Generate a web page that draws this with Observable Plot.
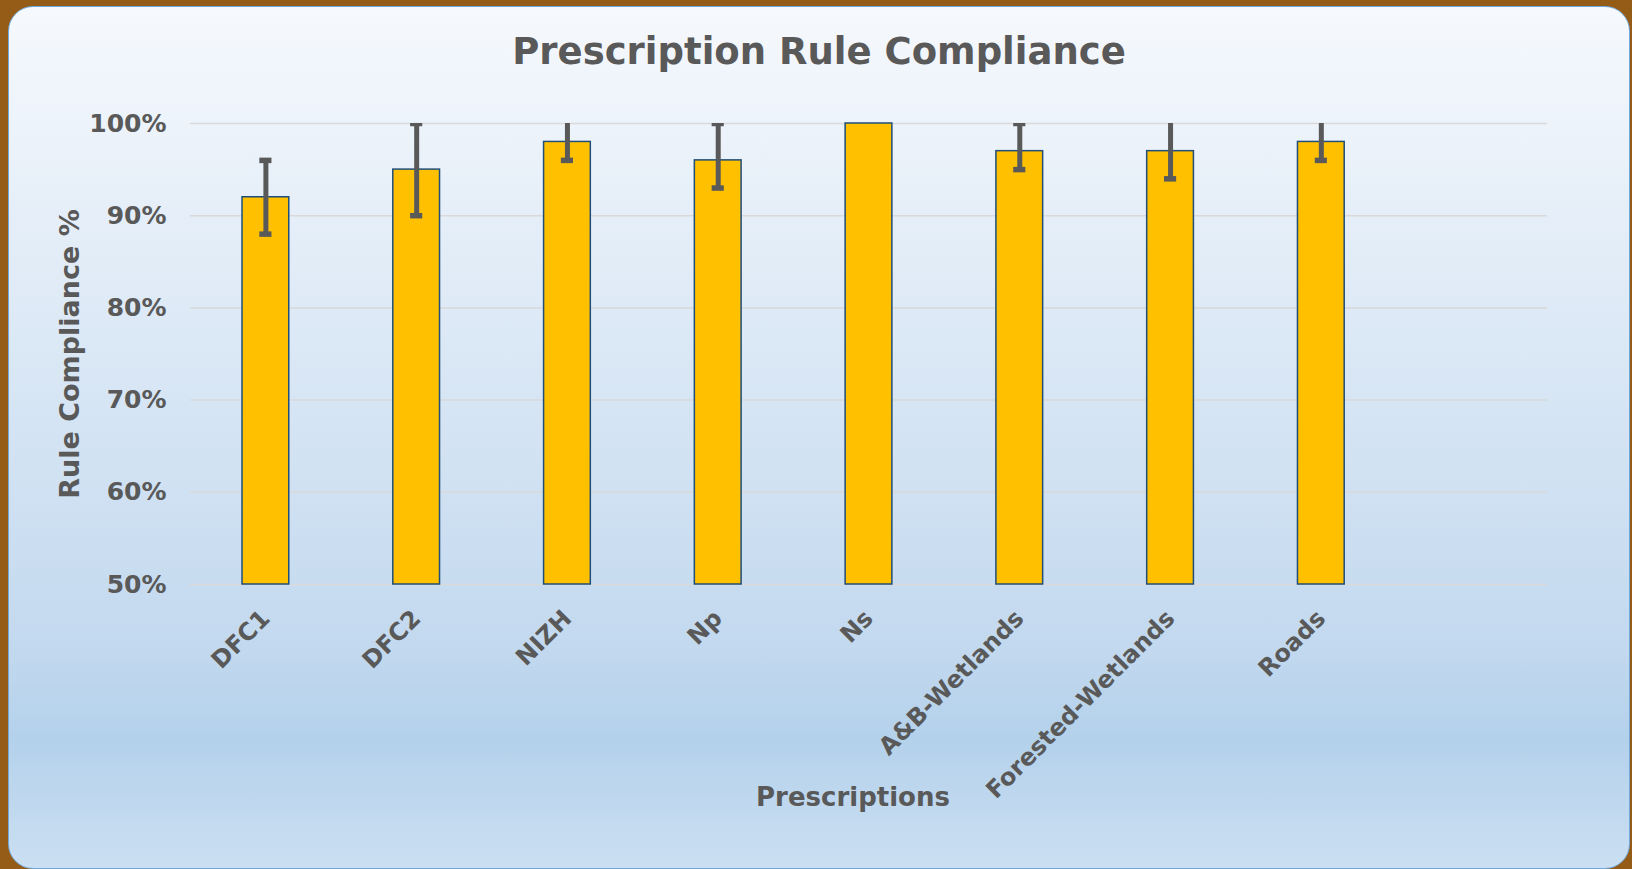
<!DOCTYPE html>
<html>
<head>
<meta charset="utf-8">
<script src="https://cdn.jsdelivr.net/npm/d3@7"></script>
<script src="https://cdn.jsdelivr.net/npm/@observablehq/plot@0.6"></script>
<style>
  html, body { margin: 0; padding: 0; }
  body { width: 1632px; height: 869px; background: #955c17; position: relative; overflow: hidden;
         font-family: "DejaVu Sans", Verdana, sans-serif; font-weight: bold; color: #595959; }
  #card { position: absolute; left: 8px; top: 6px; width: 1622px; height: 863px; box-sizing: border-box;
          border: 1.5px solid #6fa8dc; border-radius: 25px;
          background: linear-gradient(to bottom, #f6f9fd 0%, #c3d9ef 74%, #b4d1eb 85%, #cbdff2 100%); }
  .abs { position: absolute; white-space: nowrap; line-height: 1; }
  #title { left: 819px; top: 33px; transform: translateX(-50%); font-size: 37px; }
  #ylab { left: 69px; top: 354px; transform: translate(-50%, -50%) rotate(-90deg); font-size: 27px; }
  #xlab { left: 853px; top: 784px; transform: translateX(-50%); font-size: 26px; }
  #chart { position: absolute; left: 8px; top: 90px; }
  #chart svg { overflow: visible; }
</style>
</head>
<body>
<div id="card"></div>
<div class="abs" id="title">Prescription Rule Compliance</div>
<div class="abs" id="ylab">Rule Compliance %</div>
<div class="abs" id="xlab">Prescriptions</div>
<div id="chart"></div>
<script>
// Data
const categories = ["DFC1", "DFC2", "NIZH", "Np", "Ns", "A&B-Wetlands", "Forested-Wetlands", "Roads"];
const compliance = [92, 95, 98, 96, 100, 97, 97, 98];
const errorLow   = [88, 90, 96, 93, null, 95, 94, 96];
const errorHigh  = [96, 100, 101, 100, null, 100, 101, 101];
const yTicks = [50, 60, 70, 80, 90, 100];
const yDomain = [50, 100];
const emptySlot = ""; // Excel leaves one empty category slot at the right

const rows = categories.map((c, i) => ({cat: c, value: compliance[i], lo: errorLow[i], hi: errorHigh[i]}));
const errRows = rows.filter(d => d.lo != null && d.hi != null);

const capInset = 17.3;
const chart = Plot.plot({
  width: 1622,
  height: 720,
  marginLeft: 182,
  marginRight: 83,
  marginTop: 33,
  marginBottom: 226,
  style: {fontFamily: "DejaVu Sans, Verdana, sans-serif", fontWeight: "bold", color: "#595959", background: "transparent", overflow: "visible"},
  x: {domain: [...categories, emptySlot], paddingInner: 0.69, paddingOuter: 0.345, round: false, label: null},
  y: {domain: yDomain, label: null},
  marks: [
    Plot.gridY(yTicks, {stroke: "#d9d9d9", strokeOpacity: 1, strokeWidth: 1.5}),
    Plot.barY(rows, {x: "cat", y1: yDomain[0], y2: "value", fill: "#ffc000", stroke: "#1f4e79", strokeWidth: 1.5}),
    Plot.ruleX(errRows, {x: "cat", y1: "lo", y2: "hi", stroke: "#595959", strokeWidth: 5, clip: true}),
    Plot.tickY(errRows, {x: "cat", y: "lo", stroke: "#595959", strokeWidth: 5.5, insetLeft: capInset, insetRight: capInset, clip: true}),
    Plot.tickY(errRows, {x: "cat", y: "hi", stroke: "#595959", strokeWidth: 5.5, insetLeft: capInset, insetRight: capInset, clip: true}),
    Plot.axisY(yTicks, {tickFormat: d => d + "%", tickSize: 0, tickPadding: 24, fontSize: 25, label: null}),
    Plot.axisX({tickRotate: -45, tickSize: 0, tickPadding: 30, fontSize: 24, label: null})
  ]
});
document.getElementById("chart").appendChild(chart);
</script>
</body>
</html>
